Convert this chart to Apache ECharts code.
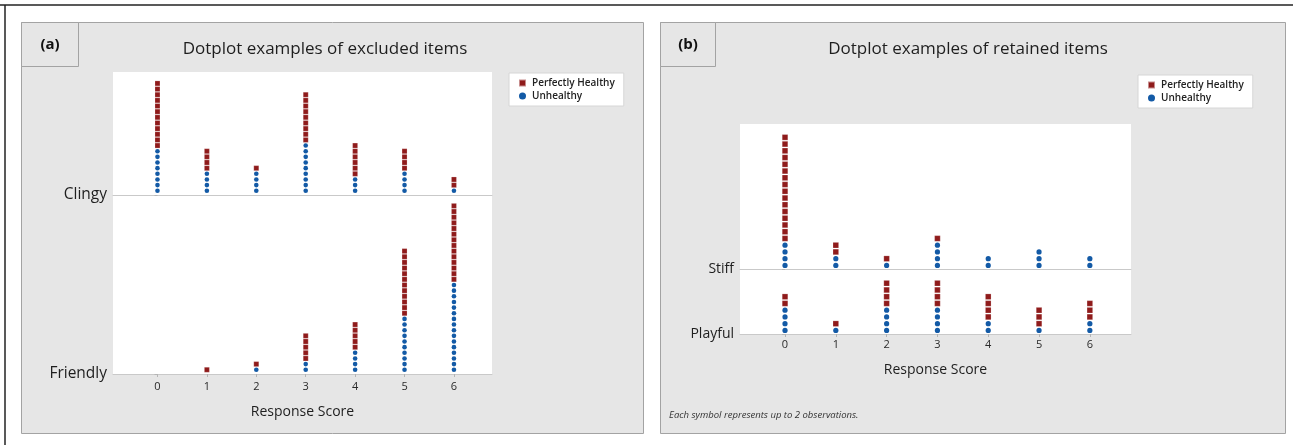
<!DOCTYPE html>
<html>
<head>
<meta charset="utf-8">
<script src="https://cdn.jsdelivr.net/npm/echarts@6/dist/echarts.min.js"></script>
<style>
  html, body { margin: 0; padding: 0; background: #ffffff; }
  #chart { width: 1293px; height: 445px; }
</style>
</head>
<body>
<div id="chart"></div>
<script>
// ---------------- data ----------------
const scores = [0, 1, 2, 3, 4, 5, 6];
const scoreLabels = ['0', '1', '2', '3', '4', '5', '6'];
const seriesNames = ['Perfectly Healthy', 'Unhealthy'];

// panel (a): excluded items (dot counts per response score)
const clingyHealthy     = [12, 4, 1, 9, 6, 4, 2];
const clingyUnhealthy   = [8, 4, 4, 9, 3, 4, 1];
const friendlyHealthy   = [0, 1, 1, 5, 5, 12, 14];
const friendlyUnhealthy = [0, 0, 1, 2, 4, 10, 16];

// panel (b): retained items
const stiffHealthy      = [16, 2, 1, 1, 0, 0, 0];
const stiffUnhealthy    = [4, 2, 1, 4, 2, 3, 2];
const playfulHealthy    = [2, 1, 4, 4, 4, 3, 3];
const playfulUnhealthy  = [4, 1, 4, 4, 2, 1, 2];

const panelTitles = ['Dotplot examples of excluded items', 'Dotplot examples of retained items'];
const panelTags = ['(a)', '(b)'];
const rowNames = [['Clingy', 'Friendly'], ['Stiff', 'Playful']];
const xAxisName = 'Response Score';
const footnote = 'Each symbol represents up to 2 observations.';

// ---------------- helpers ----------------
function stackPoints(healthy, unhealthy, which) {
  const pts = [];
  scores.forEach((s, k) => {
    if (which === 'u') {
      for (let i = 0; i < unhealthy[k]; i++) pts.push([s, i]);
    } else {
      for (let i = 0; i < healthy[k]; i++) pts.push([s, unhealthy[k] + i]);
    }
  });
  return pts;
}

const RED = '#8f1b1b';
const BLUE = '#135aa6';
const FONT = '"Open Sans", "Noto Sans", sans-serif';

const rowsData = [
  { h: clingyHealthy,   u: clingyUnhealthy,   name: rowNames[0][0] },
  { h: friendlyHealthy, u: friendlyUnhealthy, name: rowNames[0][1] },
  { h: stiffHealthy,    u: stiffUnhealthy,    name: rowNames[1][0] },
  { h: playfulHealthy,  u: playfulUnhealthy,  name: rowNames[1][1] }
];
const layout = [
  { left: 113, top: 72,  width: 379, height: 123, yMin: -0.75, yMax: 21.02, xMin: -0.9,  xMax: 6.77, sz: 5,   bottom: false, labMargin: 7, nameGap: 31, rowFont: 15.5 },
  { left: 113, top: 195, width: 379, height: 179, yMin: -0.75, yMax: 30.93, xMin: -0.9,  xMax: 6.77, sz: 5,   bottom: true,  labMargin: 7, nameGap: 31, rowFont: 15.5 },
  { left: 740, top: 124, width: 391, height: 145, yMin: -0.53, yMax: 20.98, xMin: -0.886, xMax: 6.81, sz: 5.6, bottom: false, labMargin: 5, nameGap: 29, rowFont: 14 },
  { left: 740, top: 269, width: 391, height: 65,  yMin: -0.53, yMax: 9.11,  xMin: -0.886, xMax: 6.81, sz: 5.6, bottom: true,  labMargin: 5, nameGap: 29, rowFont: 14 }
];

const grids = [], xAxes = [], yAxes = [], series = [];
layout.forEach((L, gi) => {
  grids.push({
    left: L.left, top: L.top, width: L.width, height: L.height,
    show: true, backgroundColor: '#ffffff', borderWidth: 0, containLabel: false
  });
  xAxes.push({
    type: 'value', gridIndex: gi, min: L.xMin, max: L.xMax,
    splitLine: { show: false },
    axisLine: { show: true, onZero: false, lineStyle: { color: '#c9c9c9', width: 1 } },
    axisTick: { show: L.bottom, customValues: scores, length: 3, lineStyle: { color: '#b5b5b5' } },
    axisLabel: {
      show: L.bottom, customValues: scores, margin: L.labMargin,
      formatter: v => scoreLabels[scores.indexOf(Math.round(v))],
      fontFamily: FONT, fontSize: 11, color: '#2a2a2a'
    },
    name: L.bottom ? xAxisName : '', nameLocation: 'middle', nameGap: L.nameGap,
    nameTextStyle: { fontFamily: FONT, fontSize: 14, color: '#1e1e1e' }
  });
  yAxes.push({
    type: 'value', gridIndex: gi, min: L.yMin, max: L.yMax,
    splitLine: { show: false },
    axisLine: { show: false },
    axisTick: { show: true, customValues: [L.yMin], length: 3, lineStyle: { color: '#b5b5b5' } },
    axisLabel: {
      show: true, customValues: [L.yMin], margin: 6,
      formatter: () => rowsData[gi].name,
      fontFamily: FONT, fontSize: L.rowFont, color: '#1e1e1e'
    }
  });
  const R = rowsData[gi];
  series.push({
    name: seriesNames[0], type: 'scatter', xAxisIndex: gi, yAxisIndex: gi,
    symbol: 'rect', symbolSize: L.sz, silent: true,
    itemStyle: { color: RED, opacity: 1, borderColor: 'rgba(255,255,255,0.5)', borderWidth: 0.4 },
    data: stackPoints(R.h, R.u, 'h')
  });
  series.push({
    name: seriesNames[1], type: 'scatter', xAxisIndex: gi, yAxisIndex: gi,
    symbol: 'circle', symbolSize: L.sz - 0.4, silent: true,
    itemStyle: { color: BLUE, opacity: 1 },
    data: stackPoints(R.h, R.u, 'u')
  });
});

const legendCommon = {
  orient: 'vertical', itemWidth: 7, itemHeight: 7, itemGap: 3,
  padding: [5, 9, 5, 9],
  backgroundColor: '#ffffff', borderColor: '#d6d6d6', borderWidth: 1,
  textStyle: { fontFamily: FONT, fontSize: 10, fontWeight: 600, color: '#222', padding: [0, 0, 0, 1] },
  selectedMode: false,
  data: [
    { name: seriesNames[0], icon: 'rect', itemStyle: { color: RED, opacity: 1 } },
    { name: seriesNames[1], icon: 'circle', itemStyle: { color: BLUE, opacity: 1 } }
  ]
};

const panelBoxes = [
  { x: 21, y: 22, w: 622, h: 411, tagW: 57, cx: 325 },
  { x: 660, y: 22, w: 625, h: 411, tagW: 55, cx: 968 }
];

const graphics = [
  { type: 'line', z: -90, shape: { x1: 0, y1: 5, x2: 1293, y2: 5 }, style: { stroke: '#222', lineWidth: 1.5 } },
  { type: 'line', z: -90, shape: { x1: 5, y1: 5, x2: 5, y2: 445 }, style: { stroke: '#222', lineWidth: 1.5 } }
];
panelBoxes.forEach((P, i) => {
  graphics.push({ type: 'rect', z: -100, shape: { x: P.x + 0.5, y: P.y + 0.5, width: P.w, height: P.h },
    style: { fill: '#e6e6e6', stroke: '#a3a3a3', lineWidth: 1 } });
  graphics.push({ type: 'rect', z: -80, shape: { x: P.x + 0.5, y: P.y + 0.5, width: P.tagW, height: 44 },
    style: { fill: '#e6e6e6', stroke: '#a3a3a3', lineWidth: 1 } });
  graphics.push({ type: 'text', z: -70, style: { text: panelTags[i], x: P.x + P.tagW / 2 + 0.5, y: P.y + 23,
    textAlign: 'center', textVerticalAlign: 'middle', font: 'bold 15px ' + FONT, fill: '#111' } });
  graphics.push({ type: 'text', z: -70, style: { text: panelTitles[i], x: P.cx, y: 49,
    textAlign: 'center', textVerticalAlign: 'middle', font: '17px ' + FONT, fill: '#1e1e1e' } });
});
graphics.push({ type: 'text', z: -70, style: { text: footnote, x: 669, y: 415,
  textAlign: 'left', textVerticalAlign: 'middle', font: 'italic 9.5px ' + FONT, fill: '#333' } });

const chart = echarts.init(document.getElementById('chart'), null, { renderer: 'canvas' });
chart.setOption({
  animation: false,
  backgroundColor: '#ffffff',
  grid: grids,
  xAxis: xAxes,
  yAxis: yAxes,
  legend: [
    Object.assign({}, legendCommon, { left: 509, top: 73 }),
    Object.assign({}, legendCommon, { left: 1138, top: 75 })
  ],
  graphic: { elements: graphics },
  series: series
});
</script>
</body>
</html>
